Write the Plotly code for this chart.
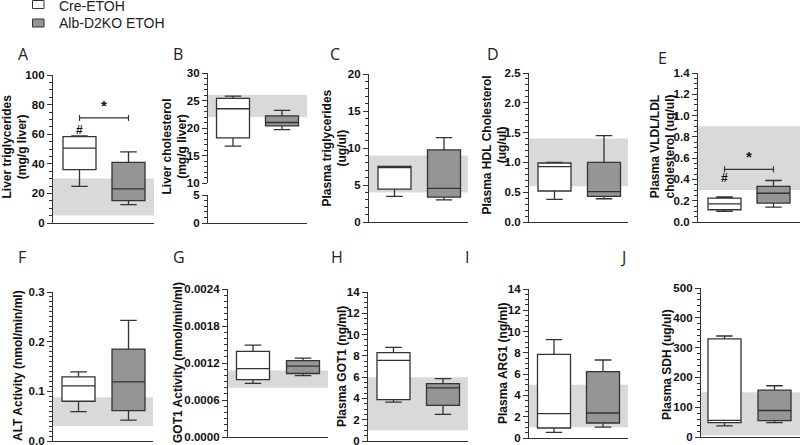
import plotly.graph_objects as go

W, H = 800, 445

# ---------------- data ----------------
groups = ["Cre-ETOH", "Alb-D2KO ETOH"]
panel_letters = ["A", "B", "C", "D", "E", "F", "G", "H", "I", "J"]
y_titles = [
    "Liver triglycerides<br>(mg/g liver)",
    "Liver cholesterol<br>(mg/g liver)",
    "Plasma triglycerides<br>(ug/ul)",
    "Plasma HDL Cholesterol<br>(ug/ul)",
    "Plasma VLDL/LDL<br>cholesterol (ug/ul)",
    "ALT Activity (nmol/min/ml)",
    "GOT1 Activity (nmol/min/ml)",
    "Plasma GOT1 (ng/ml)",
    "Plasma ARG1 (ng/ml)",
    "Plasma SDH (ug/ul)",
]
cre_low = [24.7, 16.7, 3.46, 0.38, 0.10, 0.059, 0.00087, 3.66, 0.53, 37]
cre_q1 = [36.0, 18.2, 4.45, 0.52, 0.115, 0.080, 0.00093, 3.88, 0.94, 48]
cre_med = [50.6, 23.5, 7.4, 0.93, 0.17, 0.111, 0.00111, 7.58, 2.29, 56]
cre_q3 = [58.4, 25.4, 7.5, 0.99, 0.225, 0.129, 0.00139, 8.3, 7.86, 329]
cre_high = [58.8, 25.8, 7.5, 1.0, 0.235, 0.139, 0.00149, 8.8, 9.24, 339]
ko_low = [12.4, 19.7, 3.0, 0.39, 0.14, 0.042, 0.000994, 2.5, 1.03, 48]
ko_q1 = [15.1, 20.4, 3.37, 0.43, 0.178, 0.061, 0.00103, 3.35, 1.41, 55]
ko_med = [23.1, 21.0, 4.54, 0.51, 0.27, 0.119, 0.00115, 5.0, 2.35, 89]
ko_q3 = [40.9, 22.2, 9.75, 1.0, 0.335, 0.185, 0.00124, 5.39, 6.23, 157]
ko_high = [48.1, 23.2, 11.4, 1.45, 0.39, 0.243, 0.00128, 5.86, 7.33, 172]
ref_low = [5, 22, 4, 0.6, 0.3, 0.03, 0.0008, 1, 1, 5]
ref_high = [30, 26, 9, 1.4, 0.9, 0.088, 0.00108, 6, 5, 150]
y_max = [100, 30, 20, 2.5, 1.4, 0.3, 0.0024, 14, 14, 500]
y_dtick = [20, 5, 5, 0.5, 0.2, 0.1, 0.0006, 2, 2, 100]
y_minor = [5, 1, 1, 0.1, 0.05, 0.01, 0.0001, 0.5, 0.5, 20]
tick_fmt = ["d", "d", "d", ".1f", ".1f", ".1f", ".4f", "d", "d", "d"]
# panel B broken axis: upper and lower segments
b_upper_range = [10, 30]
b_lower_range = [0, 5]
# significance marks (panel index, y of bracket, y of '#')
sig_panels = [0, 4]
sig_bracket_y = [71, 0.495]
sig_hash_y = [63, 0.41]

# ---------------- layout geometry (pixels) ----------------
L = [53, 208, 369, 529, 698, 53, 228, 368, 529, 701]
R = [154, 307, 468, 628, 800, 153, 328, 468, 628, 800]
C0 = [79.5, 233, 394.5, 554.5, 724.5, 78.5, 253, 393.5, 554, 724.5]
C1 = [128.5, 282, 444, 604, 773.5, 128.5, 303, 443, 603, 774.5]
TOP = [75, 73, 74, 73, 73, 292, 289, 292, 289, 288]
BOT = [223, 223, 222, 222, 222, 441, 437, 441, 438, 437]
B_UP_BOT, B_LO_TOP = 183, 195
BOX_PX = 33

TITLE_X = [14.5, 174.5, 334.5, 494.5, 662.5, 18, 178, 342, 503, 667]
TITLE_Y = [147, 147, 148, 145, 147, 366, 363, 367, 363, 365]
LET_X = [23, 178, 335, 493, 662, 22, 179, 337, 467, 623]
LET_Y = [54, 54, 54, 54, 58, 257, 257, 257, 257, 257]

INK = "#333333"
GREY = "#959595"
BAND = "#d9d9d9"
FONT = "Liberation Sans, Arial, sans-serif"


def px(x):
    return x / W


def py(y):
    return 1 - y / H


def xid(k):
    return "x" if k == 1 else f"x{k}"


def yid(k):
    return "y" if k == 1 else f"y{k}"


def axkey(letter, k):
    return f"{letter}axis" if k == 1 else f"{letter}axis{k}"


fig = go.Figure()
layout = dict(
    width=W, height=H, margin=dict(l=0, r=0, t=0, b=0), autosize=False,
    paper_bgcolor="white", plot_bgcolor="rgba(0,0,0,0)", template="none",
    showlegend=False, hovermode=False, shapes=[], annotations=[],
)


def yaxis_style(i, rng, anchor, top, bot):
    return dict(
        domain=[py(bot), py(top)], range=rng, anchor=anchor, type="linear",
        showline=True, linecolor=INK, linewidth=1.3, showgrid=False, zeroline=False,
        ticks="outside", ticklen=5, tickwidth=1.2, tickcolor=INK,
        dtick=y_dtick[i], tick0=0, tickformat=tick_fmt[i], ticklabeloverflow="allow",
        tickfont=dict(family=FONT, size=11.5, color="#111", weight="bold"),
        minor=dict(dtick=y_minor[i], tick0=0, ticks="outside", ticklen=3,
                   tickwidth=1, tickcolor=INK, showgrid=False),
    )


def xaxis_style(i, anchor, show):
    span = C1[i] - C0[i]
    xr = [-(C0[i] - L[i]) / span, 1 + (R[i] - C1[i]) / span]
    return dict(
        domain=[px(L[i]), px(R[i])], range=xr, anchor=anchor, type="linear",
        showline=show, linecolor=INK, linewidth=1.3, showgrid=False, zeroline=False,
        ticks="", showticklabels=False,
    )


for i in range(10):
    k = i + 1
    xn, yn = xid(k), yid(k)
    bw = BOX_PX / (C1[i] - C0[i])

    if i == 1:
        layout[axkey("y", k)] = yaxis_style(i, b_upper_range, xn, TOP[i], B_UP_BOT)
        layout[axkey("x", k)] = xaxis_style(i, yn, False)
    else:
        layout[axkey("y", k)] = yaxis_style(i, [0, y_max[i]], xn, TOP[i], BOT[i])
        layout[axkey("x", k)] = xaxis_style(i, yn, True)

    stats = [
        (cre_low, cre_q1, cre_med, cre_q3, cre_high, "white"),
        (ko_low, ko_q1, ko_med, ko_q3, ko_high, GREY),
    ]
    for g, (lo, q1, md, q3, hi, fill) in enumerate(stats):
        fig.add_trace(go.Box(
            x=[g], q1=[q1[i]], median=[md[i]], q3=[q3[i]],
            lowerfence=[lo[i]], upperfence=[hi[i]],
            width=bw, whiskerwidth=0.5, boxpoints=False,
            fillcolor=fill, line=dict(color=INK, width=1.3),
            name=groups[g], xaxis=xn, yaxis=yn, showlegend=False,
        ))

    layout["shapes"].append(dict(
        type="rect", xref=f"{xn} domain", yref=yn, x0=0, x1=1,
        y0=ref_low[i], y1=ref_high[i], fillcolor=BAND, line=dict(width=0),
        layer="below",
    ))
    layout["annotations"].append(dict(
        text=y_titles[i], x=px(TITLE_X[i]), y=py(TITLE_Y[i]), xref="paper", yref="paper",
        textangle=-90, showarrow=False, xanchor="center", yanchor="middle",
        font=dict(family=FONT, size=12, color="#111", weight="bold"),
    ))
    layout["annotations"].append(dict(
        text=panel_letters[i], x=px(LET_X[i]), y=py(LET_Y[i]), xref="paper", yref="paper",
        showarrow=False, xanchor="center", yanchor="middle",
        font=dict(family="Open Sans, Liberation Sans, sans-serif", size=16, color="#222"),
    ))

# panel B lower segment (0-5) of the broken axis: its own subplot 11
layout["yaxis11"] = yaxis_style(1, b_lower_range, "x11", B_LO_TOP, BOT[1])
layout["xaxis11"] = xaxis_style(1, "y11", True)
fig.add_trace(go.Scatter(x=[0.5], y=[2.5], mode="markers", marker=dict(opacity=0),
                         xaxis="x11", yaxis="y11", showlegend=False, hoverinfo="skip"))

# significance brackets
for j, i in enumerate(sig_panels):
    k = i + 1
    xn, yn = xid(k), yid(k)
    unit_px = (BOT[i] - TOP[i]) / y_max[i]
    yb = sig_bracket_y[j]
    tk = 3 / unit_px
    for (x0, y0, x1, y1) in [(0, yb, 1, yb), (0, yb - tk, 0, yb + tk), (1, yb - tk, 1, yb + tk)]:
        layout["shapes"].append(dict(type="line", xref=xn, yref=yn, x0=x0, y0=y0, x1=x1, y1=y1,
                                     line=dict(color=INK, width=1.2)))
    layout["annotations"].append(dict(
        text="*", x=0.5, y=yb + 2 / unit_px, xref=xn, yref=yn, showarrow=False,
        xanchor="center", yanchor="bottom",
        font=dict(family=FONT, size=15, color="#111", weight="bold"),
    ))
    layout["annotations"].append(dict(
        text="#", x=0, y=sig_hash_y[j], xref=xn, yref=yn, showarrow=False,
        xanchor="center", yanchor="middle",
        font=dict(family=FONT, size=12, color="#111", weight="bold"),
    ))

# legend
for g, (fill, yc) in enumerate([("white", 4.5), (GREY, 23)]):
    layout["shapes"].append(dict(type="rect", xref="paper", yref="paper",
                                 x0=px(32.5), x1=px(44), y0=py(yc + 4), y1=py(yc - 4),
                                 fillcolor=fill, line=dict(color=INK, width=1)))
    layout["annotations"].append(dict(
        text=groups[g], x=px(57), y=py(yc + 1.5 if g == 0 else yc), xref="paper", yref="paper",
        showarrow=False, xanchor="left", yanchor="middle",
        font=dict(family=FONT, size=14, color="#222"),
    ))

fig.update_layout(**layout)
fig.write_html("out.html", config={"displayModeBar": False},
               post_script="document.body.style.margin='0';document.body.style.overflow='hidden';")
